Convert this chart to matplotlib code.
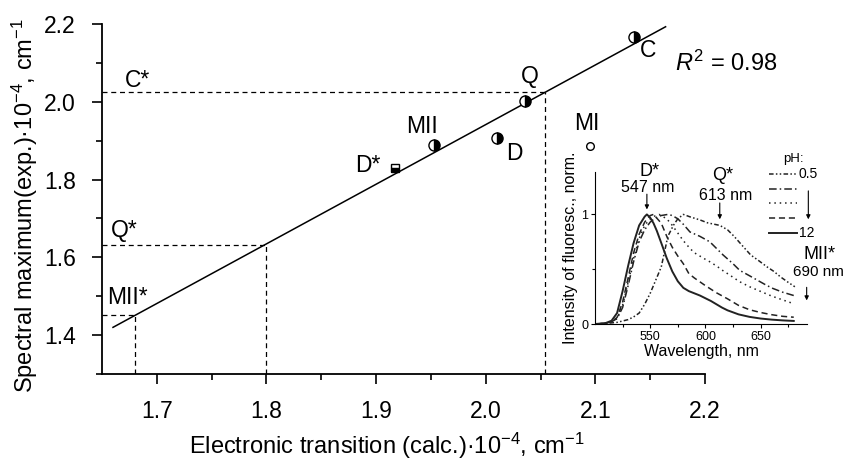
import matplotlib
matplotlib.use('Agg')
import matplotlib.pyplot as plt

plt.rcParams['font.family'] = ['Liberation Sans', 'DejaVu Sans']
plt.rcParams['mathtext.fontset'] = 'custom'
plt.rcParams['mathtext.rm'] = 'Liberation Sans'
plt.rcParams['mathtext.it'] = 'Liberation Sans:italic'

# main plot data (x: calc., y: exp., both *1e-4 cm^-1)
pt_names = ['C', 'Q', 'MII', 'D']
pt_x = [2.135, 2.036, 1.953, 2.010]
pt_y = [2.166, 2.002, 1.889, 1.906]
dstar_x, dstar_y = 1.917, 1.830
mi_x, mi_y = 2.095, 1.887

fit_x = [1.660, 2.164]
fit_y = [1.420, 2.193]

# projections of the predicted bands (C*, Q*, MII*)
proj_names = ['C*', 'Q*', 'MII*']
proj_x = [2.054, 1.800, 1.680]
proj_y = [2.024, 1.631, 1.451]

# inset: normalized fluorescence spectra, pH 0.5 ... 12
wl_12 = [500, 505, 510, 515, 520, 525, 530, 535, 540, 545, 547, 550, 553, 556, 560, 565, 570, 575, 580,
         585, 590, 595, 600, 605, 610, 615, 620, 630, 640, 650, 660, 670, 680]
in_12 = [0.0, 0.004, 0.01, 0.03, 0.1, 0.3, 0.53, 0.74, 0.9, 0.98, 1.0, 0.97, 0.92, 0.85, 0.74, 0.6, 0.48,
         0.39, 0.33, 0.3, 0.28, 0.26, 0.235, 0.21, 0.18, 0.15, 0.125, 0.088, 0.065, 0.05, 0.04, 0.033, 0.028]
wl_10 = [500, 505, 510, 515, 520, 525, 530, 535, 540, 545, 550, 553, 560, 565, 570, 575, 580, 585, 590,
         595, 600, 610, 620, 630, 640, 650, 660, 670, 680]
in_10 = [0.0, 0.003, 0.008, 0.02, 0.06, 0.2, 0.42, 0.65, 0.82, 0.93, 0.99, 1.0, 0.92, 0.8, 0.7, 0.62, 0.55,
         0.46, 0.42, 0.385, 0.35, 0.285, 0.23, 0.17, 0.13, 0.105, 0.085, 0.07, 0.062]
wl_7 = [500, 505, 510, 515, 520, 525, 530, 535, 540, 545, 550, 555, 558, 565, 570, 575, 580, 586, 590,
        600, 604, 610, 616, 620, 631, 640, 647, 660, 670, 680]
in_7 = [0.0, 0.003, 0.01, 0.02, 0.05, 0.17, 0.38, 0.6, 0.78, 0.9, 0.96, 0.99, 1.0, 0.96, 0.9, 0.83, 0.76,
        0.69, 0.65, 0.59, 0.568, 0.53, 0.486, 0.46, 0.386, 0.34, 0.31, 0.255, 0.22, 0.185]
wl_3 = [500, 505, 510, 515, 520, 525, 530, 535, 540, 545, 550, 555, 560, 566, 570, 575, 580, 586, 595,
        604, 610, 616, 625, 631, 640, 647, 655, 661, 670, 680]
in_3 = [0.0, 0.003, 0.01, 0.02, 0.05, 0.15, 0.35, 0.57, 0.75, 0.86, 0.93, 0.97, 0.99, 1.0, 0.99, 0.96,
        0.91, 0.84, 0.8, 0.75, 0.69, 0.63, 0.55, 0.49, 0.44, 0.4, 0.355, 0.325, 0.29, 0.26]
wl_05 = [500, 510, 520, 530, 535, 540, 545, 550, 555, 560, 566, 571, 575, 580, 586, 595, 602, 613, 620,
         626, 633, 641, 648, 656, 662, 668, 675, 681]
in_05 = [0.0, 0.005, 0.015, 0.04, 0.065, 0.1, 0.18, 0.28, 0.4, 0.52, 0.8, 0.9, 0.96, 1.0, 0.978, 0.95,
         0.923, 0.9, 0.86, 0.8, 0.72, 0.63, 0.58, 0.52, 0.48, 0.43, 0.38, 0.34]

ph_labels = ['0.5', '', '', '', '12']

fig = plt.figure(figsize=(8.46, 4.63), dpi=100)
ax = fig.add_axes([0.1206, 0.1922, 0.7128, 0.7559])

ax.plot(fit_x, fit_y, color='black', lw=1.1, zorder=3)

dash = (0, (4, 3))
for x, y in zip(proj_x, proj_y):
    ax.plot([1.65, x], [y, y], color='black', lw=0.9, ls=dash, zorder=2)
    ax.plot([x, x], [1.3, y], color='black', lw=0.9, ls=dash, zorder=2)

ax.plot(pt_x, pt_y, 'o', ms=8, fillstyle='right', markerfacecolor='black',
        markerfacecoloralt='white', markeredgecolor='black', mew=1.0, zorder=4)
ax.plot([dstar_x], [dstar_y], 's', ms=5.5, fillstyle='bottom', markerfacecolor='black',
        markerfacecoloralt='white', markeredgecolor='black', mew=1.0, zorder=4)
ax.plot([mi_x], [mi_y], 'o', ms=5.5, markerfacecolor='white', markeredgecolor='black',
        mew=1.0, zorder=4)

fs_lab = 16.5
ax.text(2.148, 2.133, 'C', fontsize=fs_lab, ha='center', va='center')
ax.text(2.040, 2.064, 'Q', fontsize=fs_lab, ha='center', va='center')
ax.text(1.942, 1.936, 'MII', fontsize=fs_lab, ha='center', va='center')
ax.text(2.026, 1.868, 'D', fontsize=fs_lab, ha='center', va='center')
ax.text(1.892, 1.835, 'D*', fontsize=fs_lab, ha='center', va='center')
ax.text(2.092, 1.945, 'MI', fontsize=fs_lab, ha='center', va='center')
ax.text(1.682, 2.056, 'C*', fontsize=fs_lab, ha='center', va='center')
ax.text(1.670, 1.670, 'Q*', fontsize=fs_lab, ha='center', va='center')
ax.text(1.673, 1.496, 'MII*', fontsize=fs_lab, ha='center', va='center')
ax.text(2.219, 2.100, '$R^2$ = 0.98', fontsize=17, ha='center', va='center')

ax.set_xlim(1.65, 2.2)
ax.set_ylim(1.3, 2.2)
ax.set_xticks([1.7, 1.8, 1.9, 2.0, 2.1, 2.2])
ax.set_xticks([1.75, 1.85, 1.95, 2.05, 2.15], minor=True)
ax.set_yticks([1.4, 1.6, 1.8, 2.0, 2.2])
ax.set_yticks([1.3, 1.5, 1.7, 1.9, 2.1], minor=True)
ax.set_xticklabels(['1.7', '1.8', '1.9', '2.0', '2.1', '2.2'])
ax.set_yticklabels(['1.4', '1.6', '1.8', '2.0', '2.2'])
ax.tick_params(which='major', direction='out', length=7, width=1.2, labelsize=16.5, pad=12)
ax.tick_params(which='minor', direction='out', length=4, width=1.2)
for s in ['top', 'right']:
    ax.spines[s].set_visible(False)
for s in ['left', 'bottom']:
    ax.spines[s].set_linewidth(1.3)
ax.set_xlabel('Electronic transition (calc.)\u00b710$^{\u22124}$, cm$^{\u22121}$', fontsize=17, labelpad=5)
ax.set_ylabel('Spectral maximum(exp.)\u00b710$^{\u22124}$, cm$^{\u22121}$', fontsize=17, labelpad=3)
ax.xaxis.label.set_x(0.473)
ax.yaxis.label.set_y(0.48)

# inset
axi = fig.add_axes([0.7033, 0.3002, 0.2506, 0.329])
col = '#222222'
styles = [(0, (3, 1.5, 1, 1.5, 1, 1.5)), (0, (5, 2, 1, 2)), (0, (1, 2.5)), (0, (4, 2.5)), '-']
widths = [1.1, 1.1, 1.1, 1.1, 1.4]
curves = [(wl_05, in_05), (wl_3, in_3), (wl_7, in_7), (wl_10, in_10), (wl_12, in_12)]
for (w, v), st, lw in zip(curves, styles, widths):
    axi.plot(w, v, color=col, lw=lw, ls=st)

axi.set_xlim(500, 692)
axi.set_ylim(0, 1.39)
axi.set_xticks([550, 600, 650])
axi.set_xticks([525, 575, 625, 675], minor=True)
axi.set_yticks([0, 1])
axi.set_yticks([0.5], minor=True)
axi.set_yticklabels(['0', '1'])
axi.tick_params(which='major', direction='out', length=3, width=0.8, labelsize=9, pad=2)
axi.tick_params(which='minor', direction='out', length=2, width=0.8)
for s in ['top', 'right']:
    axi.spines[s].set_visible(False)
axi.patch.set_alpha(0)
axi.set_xlabel('Wavelength, nm', fontsize=11.5, labelpad=1)
axi.set_ylabel('Intensity of fluoresc., norm.', fontsize=11.5, labelpad=2)

axi.text(549, 1.389, 'D*', fontsize=13, ha='center', va='center', clip_on=False)
axi.text(548, 1.25, '547 nm', fontsize=11.5, ha='center', va='center', clip_on=False)
axi.annotate('', xy=(547, 1.02), xytext=(547, 1.21),
             arrowprops=dict(arrowstyle='-|>', color='black', lw=0.8, mutation_scale=6))
axi.text(616, 1.352, 'Q*', fontsize=13, ha='center', va='center', clip_on=False)
axi.text(618, 1.176, '613 nm', fontsize=11.5, ha='center', va='center', clip_on=False)
axi.annotate('', xy=(613, 0.93), xytext=(613, 1.13),
             arrowprops=dict(arrowstyle='-|>', color='black', lw=0.8, mutation_scale=6))
axi.text(703, 0.638, 'MII*', fontsize=13, ha='center', va='center', clip_on=False)
axi.text(702.5, 0.471, '690 nm', fontsize=11, ha='center', va='center', clip_on=False)
axi.annotate('', xy=(691.7, 0.19), xytext=(691.7, 0.36),
             arrowprops=dict(arrowstyle='-|>', color='black', lw=0.8, mutation_scale=6),
             annotation_clip=False)

# hand-made pH legend
leg_y = [1.367, 1.228, 1.106, 0.963, 0.827]
axi.text(680, 1.51, 'pH:', fontsize=9.5, ha='center', va='center', clip_on=False)
for y, st, lab, lw in zip(leg_y, styles, ph_labels, widths):
    axi.plot([658, 683], [y, y], color=col, lw=lw, ls=st, clip_on=False)
    if lab:
        axi.text(684.5, y, lab, fontsize=10, ha='left', va='center', clip_on=False)
axi.annotate('', xy=(693.2, 0.93), xytext=(693.2, 1.24),
             arrowprops=dict(arrowstyle='-|>', color='black', lw=0.8, mutation_scale=6),
             annotation_clip=False)

fig.savefig('out.png', dpi=100)
